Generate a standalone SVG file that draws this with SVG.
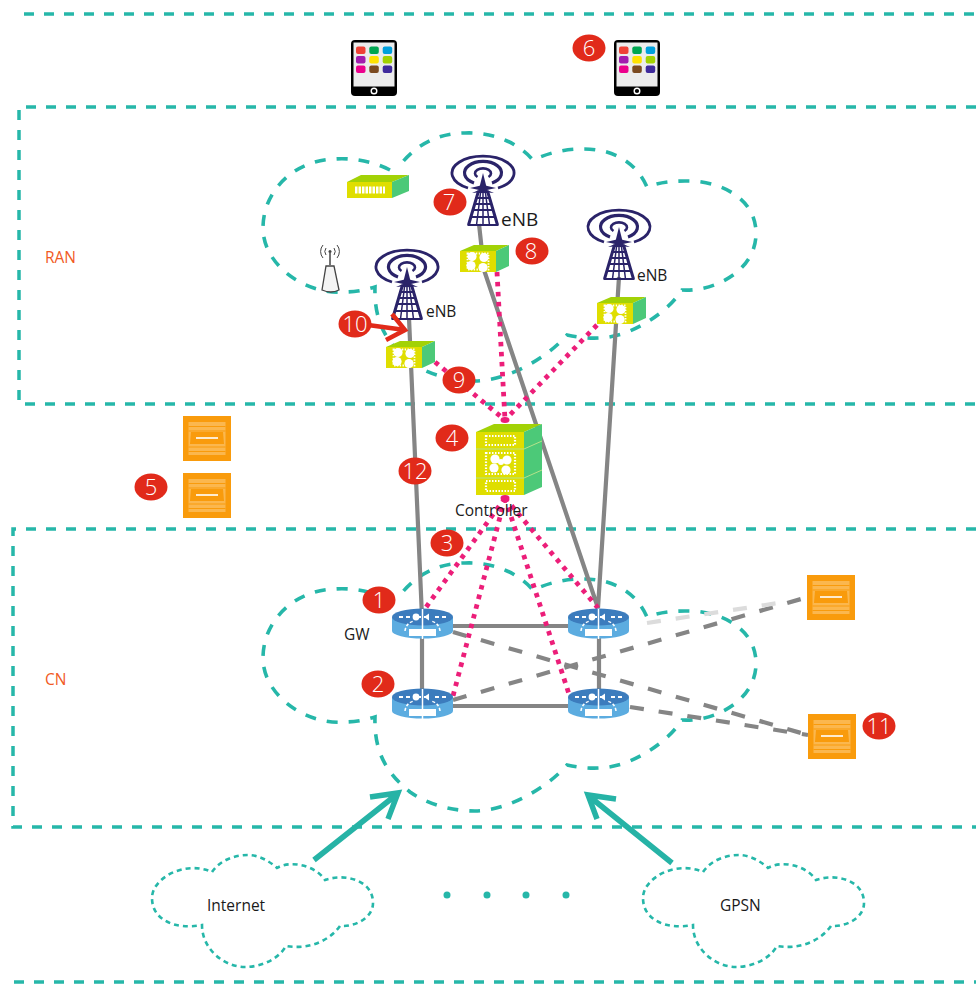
<svg xmlns="http://www.w3.org/2000/svg" xmlns:xlink="http://www.w3.org/1999/xlink" width="976" height="984" viewBox="0 0 976 984">
<style>
text{font-family:"Open Sans","Noto Sans","Liberation Sans",sans-serif;fill:#1a1a1a}
.zone{fill:none;stroke:#26b7a9;stroke-width:3.500;stroke-dasharray:10 10}
.cloud{fill:none;stroke:#26b7a9;stroke-width:3.600;stroke-dasharray:11 11}
.mini{fill:none;stroke:#26b7a9;stroke-width:2.600;stroke-dasharray:5 4}
.solid{fill:none;stroke:#858585;stroke-width:4.200}
.dash{fill:none;stroke:#858585;stroke-width:4.200;stroke-dasharray:14 15}
.pale{fill:none;stroke:#dcdcdc;stroke-width:4.200;stroke-dasharray:14 15}
.dot{fill:none;stroke:#ec1e79;stroke-width:4.800;stroke-dasharray:4.500 5.500}
.arrow{fill:none;stroke:#26b3a6;stroke-width:5.500}
.red{fill:#e12a1a}
.num{fill:#fff;font-size:22px;font-weight:300;text-anchor:middle}
.zl{fill:#f15a24;font-size:15.500px}
.lab{font-size:15.500px}
</style>
<defs>
<path id="bigcloud" d="M390,600C370,590 350,588 335,589C295,590 263,620 263,658C263,695 305,725 345,722C355,722 365,720 375,717C374,750 385,772 410,792C430,806 455,811 475,811C505,811 545,790 567,765C585,769 605,770 625,763C650,753 670,738 682,720C715,722 757,700 756,662C755,625 715,610 685,611C670,611 658,613 647,617C635,590 610,578 580,579C565,579 548,583 533,590C515,570 490,562 465,563C435,563 412,578 398,598"/>
<path id="minicloud" d="M212,872C220,860 235,855 248,855C258,855 268,860 277,868C290,860 315,865 325,880C345,873 373,880 373,903C373,918 355,927 340,926C330,940 310,950 286,946C278,960 260,967 245,967C225,967 202,950 202,925C175,930 152,920 152,898C152,878 185,860 212,872Z"/>
<g id="tablet">
<rect width="46" height="56" rx="4" fill="#000"/>
<rect x="2.500" y="2.500" width="41" height="44" fill="#ececec"/>
<g>
<rect x="5" y="6.500" width="9.500" height="7.500" rx="2" fill="#ef4136"/><rect x="18.300" y="6.500" width="9.500" height="7.500" rx="2" fill="#00a651"/><rect x="31.700" y="6.500" width="9.500" height="7.500" rx="2" fill="#00a0dc"/>
<rect x="5" y="16" width="9.500" height="7.500" rx="2" fill="#a21cae"/><rect x="18.300" y="16" width="9.500" height="7.500" rx="2" fill="#ffe200"/><rect x="31.700" y="16" width="9.500" height="7.500" rx="2" fill="#a2d200"/>
<rect x="5" y="25.500" width="9.500" height="7.500" rx="2" fill="#ec008c"/><rect x="18.300" y="25.500" width="9.500" height="7.500" rx="2" fill="#7b4a20"/><rect x="31.700" y="25.500" width="9.500" height="7.500" rx="2" fill="#3f2a9c"/>
</g>
<circle cx="23" cy="51" r="2.800" fill="none" stroke="#fff" stroke-width="1.400"/>
</g>
<g id="tower" fill="none" stroke="#2a2369">
<path d="M-15,15A31,17 0 1 1 15,15" stroke-width="2.800"/>
<path d="M-9,10A18.500,11.500 0 1 1 9,10" stroke-width="3.200"/>
<path d="M-5.500,4A8,5 0 1 1 5.500,4" stroke-width="2.600"/>
<path d="M0,0L5,20L-5,20Z" fill="#2a2369" stroke="none"/>
<path d="M-13,15L0,12L13,15L4,17L11,20L0,19L-11,20L-4,17Z" fill="#2a2369" stroke="none"/>
<path d="M-4.500,18L-14.500,52M4.500,18L14.500,52" stroke-width="3"/>
<path d="M0,18V52M-2.500,20L-6.500,52M2.500,20L6.500,52" stroke-width="1.500"/>
<path d="M-8,25H8M-9,31H9M-10.500,37H10.500M-12.500,44H12.500M-15.500,52H15.500" stroke-width="2.200"/>
</g>
<g id="flower" fill="#fff">
<circle cx="-6" cy="-5" r="4.600"/><circle cx="6" cy="-4" r="4.600"/><circle cx="-7" cy="4" r="4.600"/><circle cx="5" cy="6" r="4.600"/>
</g>
<g id="box">
<path d="M0,6L14,0H49L36,6Z" fill="#a2d206"/>
<path d="M36,6L49,0V21L36,27Z" fill="#4cc978"/>
<rect y="6" width="36" height="21" fill="#dfde00"/>
<rect x="7.500" y="8.500" width="21" height="16" fill="none" stroke="#fff" stroke-width="1.800" stroke-dasharray="1.400 1.400"/>
<use href="#flower" x="18" y="16.500"/>
</g>
<g id="router">
<path d="M0,8V22A30.500,7.500 0 0 0 61,22V8Z" fill="#5cace0"/>
<ellipse cx="30.500" cy="8" rx="30.500" ry="8.500" fill="#3c7cbd"/>
<path d="M7,8H18M25,8H37M43,8H54" stroke="#fff" stroke-width="2.200" stroke-dasharray="4 3" fill="none"/>
<circle cx="24" cy="8" r="3.400" fill="#fff"/>
<path d="M32,8L37,4.500V11.500Z" fill="#fff"/>
<path d="M30.500,0V30" stroke="#fff" stroke-width="1.500"/>
<path d="M13,22Q14,14 22,12M48,22Q47,14 39,12" stroke="#fff" stroke-width="1.500" fill="none" stroke-dasharray="3 2"/>
<rect x="17" y="20" width="27" height="7" fill="#fff"/>
</g>
<g id="server">
<rect width="48" height="45" fill="#f99b0c"/>
<rect x="5.500" y="6" width="37" height="33" fill="#fbb74e"/>
<path d="M5.500,10.500H42.500M5.500,15H42.500M5.500,31H42.500M5.500,35.500H42.500" stroke="#f99b0c" stroke-width="1"/>
<path d="M8,16H40L41,28H7Z" fill="#f99b0c"/>
<path d="M13,22H35" stroke="#fff" stroke-width="1.600"/>
</g>
</defs>

<g id="zones">
<path class="zone" d="M24,14H976"/>
<path class="zone" d="M976,107H19V404H976"/>
<path class="zone" d="M976,529H13V827H976"/>
<path class="zone" d="M14,982H976"/>
<use class="cloud" href="#bigcloud" y="-430"/>
<use class="cloud" href="#bigcloud"/>
<use class="mini" href="#minicloud"/>
<use class="mini" href="#minicloud" x="491"/>
</g>

<g id="connectors">
<path class="solid" d="M409,318L422,617V695M422,626H599M422,706H599M599,620V695"/>
<path class="solid" d="M479,224L484,270L598,608M619,277L598,608"/>
<path class="dash" d="M453,632L808,735"/>
<path class="dash" d="M630,707L808,735"/>
<path class="dash" d="M453,700L808,597"/>
<path class="pale" d="M647,623L785,602"/>
<path class="dot" d="M435,362L505,420"/>
<path class="dot" d="M497,272L505,420"/>
<path class="dot" d="M597,325L505,420"/>
<path class="dot" d="M505,498L424,610"/>
<path class="dot" d="M505,498L453,696"/>
<path class="dot" d="M505,498L569,694"/>
<path class="dot" d="M505,498L598,608"/>
<ellipse cx="505" cy="420" rx="4.500" ry="3" fill="#ec1e79"/>
<ellipse cx="505" cy="498" rx="4.500" ry="3" fill="#ec1e79"/>
<path class="arrow" d="M314,860L396,795M370,797L398,793L388,819"/>
<path class="arrow" d="M672,863L590,797M616,799L588,795L597,819"/>
</g>

<g id="tablet1"><use href="#tablet" x="351" y="40"/></g>
<g id="tablet2"><use href="#tablet" x="614" y="40"/></g>

<g id="wifi-box">
<path d="M347,182L361,175H409L392,182Z" fill="#a2d206"/>
<path d="M392,182L409,175V191L392,198Z" fill="#4cc978"/>
<rect x="347" y="182" width="45" height="16" fill="#dfde00"/>
<path d="M355,190H385" stroke="#fff" stroke-width="7" stroke-dasharray="2.500 1"/>
</g>

<g id="antenna" fill="none" stroke="#444">
<path d="M326,255A6,6 0 0 1 326,248M334,248A6,6 0 0 1 334,255M323,258A10,10 0 0 1 323,245M337,245A10,10 0 0 1 337,258" stroke-width="1"/>
<circle cx="330" cy="251.500" r="1.500" fill="#444" stroke="none"/>
<path d="M330,253V265" stroke-width="1.500"/>
<path d="M326,266H334L339,290Q331,294 322,290Z" fill="#f4f4f4" stroke-width="1.300"/>
</g>

<g id="tower-left"><use href="#tower" x="407" y="267"/></g>
<g id="tower-mid"><use href="#tower" x="483" y="173"/></g>
<g id="tower-right"><use href="#tower" x="619" y="227"/></g>
<g id="box-left"><use href="#box" x="386" y="341"/></g>
<g id="box-mid"><use href="#box" x="460" y="245"/></g>
<g id="box-right"><use href="#box" x="597" y="297"/></g>

<g id="controller">
<path d="M476,432L494,424H542L524,432Z" fill="#a2d206"/>
<path d="M524,432L542,424V487L524,495Z" fill="#4cc978"/>
<rect x="476" y="432" width="48" height="63" fill="#dfde00"/>
<path d="M476,449H524L542,441M476,478H524L542,470" stroke="#b5e28a" stroke-width="1" fill="none"/>
<rect x="486" y="436" width="29" height="9" fill="none" stroke="#fff" stroke-width="2.200" stroke-dasharray="1.500 1.500"/>
<rect x="486" y="453" width="29" height="21" fill="none" stroke="#fff" stroke-width="2.200" stroke-dasharray="1.500 1.500"/>
<rect x="486" y="481" width="29" height="10" fill="none" stroke="#fff" stroke-width="2.200" stroke-dasharray="1.500 1.500"/>
<use href="#flower" x="501" y="464"/>
<circle cx="501" cy="462" r="3" fill="#fff"/>
<text class="lab" x="455" y="516">Controller</text>
</g>

<g id="router1"><use href="#router" x="392" y="609"/></g>
<g id="router2"><use href="#router" x="392" y="689"/></g>
<g id="router3"><use href="#router" x="568" y="609"/></g>
<g id="router4"><use href="#router" x="568" y="689"/></g>

<g id="server1"><use href="#server" x="183" y="416"/></g>
<g id="server2"><use href="#server" x="183" y="473"/></g>
<g id="server3"><use href="#server" x="807" y="575"/></g>
<g id="server4"><use href="#server" x="808" y="714"/></g>

<g id="arrow10"><path d="M368,325L405,330M392,314L405,330L386,340" fill="none" stroke="#e12a1a" stroke-width="4.500"/></g>

<g id="dots" fill="#26b7a9">
<circle cx="447" cy="895" r="3.500"/><circle cx="487" cy="895" r="3.500"/><circle cx="526" cy="895" r="3.500"/><circle cx="566" cy="895" r="3.500"/>
</g>

<g id="labels">
<text class="zl" x="45" y="263">RAN</text>
<text class="zl" x="45" y="685">CN</text>
<text class="lab" x="426" y="317">eNB</text>
<text x="501" y="226" font-size="19">eNB</text>
<text class="lab" x="637" y="281">eNB</text>
<text class="lab" x="344" y="640">GW</text>
<text class="lab" x="207" y="911">Internet</text>
<text class="lab" x="720" y="911">GPSN</text>
</g>

<g id="badges">
<g id="b1"><ellipse class="red" cx="379" cy="600" rx="16.500" ry="13.500"/><text class="num" x="379" y="608">1</text></g>
<g id="b2"><ellipse class="red" cx="378" cy="684" rx="16.500" ry="13.500"/><text class="num" x="378" y="692">2</text></g>
<g id="b3"><ellipse class="red" cx="447" cy="543" rx="16.500" ry="13.500"/><text class="num" x="447" y="551">3</text></g>
<g id="b4"><ellipse class="red" cx="452" cy="438" rx="16.500" ry="13.500"/><text class="num" x="452" y="446">4</text></g>
<g id="b5"><ellipse class="red" cx="151" cy="487" rx="16.500" ry="13.500"/><text class="num" x="151" y="495">5</text></g>
<g id="b6"><ellipse class="red" cx="589" cy="48" rx="16.500" ry="13.500"/><text class="num" x="589" y="56">6</text></g>
<g id="b7"><ellipse class="red" cx="450" cy="202" rx="16.500" ry="13.500"/><text class="num" x="449" y="210">7</text></g>
<g id="b8"><ellipse class="red" cx="532" cy="251" rx="16.500" ry="13.500"/><text class="num" x="531" y="259">8</text></g>
<g id="b9"><ellipse class="red" cx="459" cy="380" rx="16.500" ry="13.500"/><text class="num" x="459" y="388">9</text></g>
<g id="b10"><ellipse class="red" cx="355" cy="324" rx="16.500" ry="13.500"/><text class="num" x="355" y="332">10</text></g>
<g id="b11"><ellipse class="red" cx="879" cy="726" rx="16.500" ry="13.500"/><text class="num" x="879" y="734">11</text></g>
<g id="b12"><ellipse class="red" cx="415" cy="471" rx="16.500" ry="13.500"/><text class="num" x="415" y="479">12</text></g>
</g>
</svg>
